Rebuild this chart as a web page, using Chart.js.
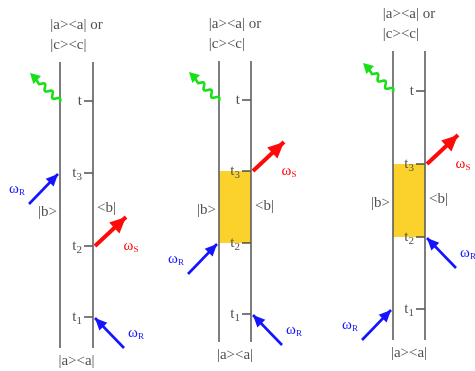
<!DOCTYPE html>
<html>
<head>
<meta charset="utf-8">
<script src="https://cdn.jsdelivr.net/npm/chart.js@4/dist/chart.umd.min.js"></script>
<style>
  html, body { margin: 0; padding: 0; background: #fff; }
  #wrap { width: 475px; height: 371px; }
</style>
</head>
<body>
<div id="wrap"><canvas id="c" width="475" height="371"></canvas></div>
<script>
// Three double-sided Feynman diagrams: ket rail on the left, bra rail on the right,
// time runs upward (smaller vertical value = later time).
const ketX = [60, 219, 393];
const braX = [93, 251, 425];
const railTop = [62, 61, 51];
const railBottom = [348, 342, 340];

// interaction times on each diagram
const timeT  = [101, 100, 91];
const timeT3 = [173, 171, 164];
const timeT2 = [246, 243, 237];
const timeT1 = [317, 314, 309];
const timeLabels = [['t', ''], ['t', '3'], ['t', '2'], ['t', '1']];

// coherence |b><b| shaded between t2 and t3
const hasCoherenceBox = [false, true, true];
const stateLabels = ['|b>', '<b|'];
const topLabels = ['|a><a| or', '|c><c|'];
const bottomLabel = '|a><a|';

// field interactions: diagram, rail, time slot (index into timeLabels), direction, field
const fieldPanel = [0, 0, 0, 1, 1, 1, 2, 2, 2];
const fieldRail  = ['ket', 'bra', 'bra', 'bra', 'ket', 'bra', 'bra', 'bra', 'ket'];
const fieldSlot  = [1, 2, 3, 1, 2, 3, 1, 2, 3];
const fieldDir   = ['in', 'out', 'in', 'out', 'in', 'in', 'out', 'in', 'in'];
const fieldName  = ['R', 'S', 'R', 'S', 'R', 'R', 'S', 'R', 'R'];

const RAIL = '#5e5e5e';
const TEXT = '#505050';
const YELLOW = '#fbd22c';
const BLUE = '#1414ff';
const RED = '#ff0a0a';
const GREEN = '#18e018';
const FONT = '"Liberation Serif", "DejaVu Serif", serif';

const slotTime = (p, s) => [timeT, timeT3, timeT2, timeT1][s][p];
const pt = (x, y) => ({ x, y });

const datasets = [];

// yellow coherence blocks (filled between a top edge and a bottom edge)
ketX.forEach((_, p) => {
  if (!hasCoherenceBox[p]) return;
  datasets.push({
    data: [pt(ketX[p], timeT3[p]), pt(braX[p], timeT3[p])],
    showLine: true, borderColor: 'rgba(0,0,0,0)', borderWidth: 0, pointRadius: 0,
    fill: '+1', backgroundColor: YELLOW, order: 10
  });
  datasets.push({
    data: [pt(ketX[p], timeT2[p]), pt(braX[p], timeT2[p])],
    showLine: true, borderColor: 'rgba(0,0,0,0)', borderWidth: 0, pointRadius: 0,
    fill: false, order: 10
  });
});

// ket and bra rails plus the time ticks on the bra rail
ketX.forEach((_, p) => {
  [ketX[p], braX[p]].forEach(x => {
    datasets.push({
      data: [pt(x, railTop[p]), pt(x, railBottom[p])],
      showLine: true, borderColor: RAIL, borderWidth: 1.6, pointRadius: 0, fill: false, order: 5
    });
  });
  timeLabels.forEach((_, s) => {
    const t = slotTime(p, s);
    datasets.push({
      data: [pt(braX[p] - 9, t), pt(braX[p], t)],
      showLine: true, borderColor: '#333', borderWidth: 1.3, pointRadius: 0, fill: false, order: 5
    });
  });
});

// field arrows
fieldPanel.forEach((p, i) => {
  const t = slotTime(p, fieldSlot[i]);
  const onKet = fieldRail[i] === 'ket';
  const x = onKet ? ketX[p] : braX[p];
  const side = onKet ? -1 : 1;
  let tail, tip;
  if (fieldDir[i] === 'in') {
    tip = pt(x + side * 2, t + 1);
    tail = pt(x + side * 31, t + 31);
  } else {
    tail = pt(x + side * 2, t);
    tip = pt(x + side * 33, t - 29);
  }
  const isSignal = fieldName[i] === 'S';
  datasets.push({
    data: [tail, tip],
    showLine: true,
    borderColor: isSignal ? RED : BLUE,
    borderWidth: isSignal ? 4 : 2.6,
    borderCapStyle: 'butt',
    pointRadius: 0, fill: false, order: 0,
    arrowHead: isSignal ? { len: 16, half: 7.5 } : { len: 12, half: 5.5 },
    fieldLabel: fieldName[i], fieldSide: side, fieldDir: fieldDir[i]
  });
});

// emitted signal field (wavy green arrow) leaving the ket rail at time t
ketX.forEach((_, p) => {
  datasets.push({
    data: [pt(ketX[p], timeT[p] + 1), pt(ketX[p] - 30, timeT[p] - 28)],
    borderColor: GREEN, borderWidth: 0, showLine: false, pointRadius: 0,
    fill: false, order: 0, wavy: true
  });
});

const drawHead = (ctx, a, b, len, half, color) => {
  const ang = Math.atan2(b.y - a.y, b.x - a.x);
  const c = Math.cos(ang), s = Math.sin(ang);
  ctx.beginPath();
  ctx.moveTo(b.x, b.y);
  ctx.lineTo(b.x - len * c - half * s, b.y - len * s + half * c);
  ctx.lineTo(b.x - len * c + half * s, b.y - len * s - half * c);
  ctx.closePath();
  ctx.fillStyle = color;
  ctx.fill();
};

const diagramPlugin = {
  id: 'diagram',
  afterDatasetsDraw(chart) {
    const ctx = chart.ctx;
    const xs = chart.scales.x, ys = chart.scales.y;
    const X = v => xs.getPixelForValue(v);
    const Y = v => ys.getPixelForValue(v);
    ctx.save();

    // arrow heads and wavy lines
    chart.data.datasets.forEach((ds, i) => {
      const meta = chart.getDatasetMeta(i);
      if (!meta.data || meta.data.length < 2) return;
      const a = meta.data[0], b = meta.data[1];
      if (ds.arrowHead) {
        drawHead(ctx, a, b, ds.arrowHead.len, ds.arrowHead.half, ds.borderColor);
      }
      if (ds.wavy) {
        const dx = b.x - a.x, dy = b.y - a.y;
        const L = Math.hypot(dx, dy);
        const ux = dx / L, uy = dy / L, nx = -uy, ny = ux;
        const waveEnd = L - 14;
        ctx.beginPath();
        for (let s = 0; s <= waveEnd; s += 0.5) {
          const amp = 2.6 * Math.sin((s / 10.5) * 2 * Math.PI);
          const px = a.x + ux * s + nx * amp, py = a.y + uy * s + ny * amp;
          if (s === 0) ctx.moveTo(px, py); else ctx.lineTo(px, py);
        }
        ctx.lineTo(a.x + ux * (L - 8), a.y + uy * (L - 8));
        ctx.strokeStyle = ds.borderColor;
        ctx.lineWidth = 2.6;
        ctx.lineJoin = 'round';
        ctx.stroke();
        drawHead(ctx, a, b, 10, 5.5, ds.borderColor);
      }
    });

    ctx.textBaseline = 'middle';

    ketX.forEach((_, p) => {
      ctx.fillStyle = TEXT;
      const cx = X((ketX[p] + braX[p]) / 2);
      // initial / final populations
      ctx.font = '15px ' + FONT;
      ctx.textAlign = 'center';
      const w0 = ctx.measureText(topLabels[0]).width;
      ctx.fillText(topLabels[0], cx, Y(railTop[p]) - 37);
      ctx.textAlign = 'left';
      ctx.fillText(topLabels[1], cx - w0 / 2, Y(railTop[p]) - 17);
      ctx.textAlign = 'center';
      ctx.fillText(bottomLabel, cx, Y(railBottom[p]) + 13);

      // |b> and <b| between t2 and t3
      const mid = Y((timeT3[p] + timeT2[p]) / 2);
      ctx.textAlign = 'right';
      ctx.fillText(stateLabels[0], X(ketX[p]) - 3, mid + 3);
      ctx.textAlign = 'left';
      ctx.fillText(stateLabels[1], X(braX[p]) + 4, mid - 1);

      // time labels
      timeLabels.forEach((lab, s) => {
        const y = Y(slotTime(p, s));
        const right = X(braX[p]) - 11;
        ctx.font = '11px ' + FONT;
        const ws = lab[1] ? ctx.measureText(lab[1]).width : 0;
        if (lab[1]) {
          ctx.textAlign = 'left';
          ctx.fillText(lab[1], right - ws, y + 4);
        }
        ctx.font = '15px ' + FONT;
        ctx.textAlign = 'right';
        ctx.fillText(lab[0], right - ws, y);
      });
    });

    // field labels
    chart.data.datasets.forEach((ds, i) => {
      if (!ds.fieldLabel) return;
      const meta = chart.getDatasetMeta(i);
      const anchor = ds.fieldDir === 'in' ? meta.data[1] : meta.data[0];
      let lx, ly;
      if (ds.fieldDir === 'in') {
        lx = anchor.x + ds.fieldSide * 41;
        ly = anchor.y + 15;
      } else {
        lx = anchor.x + ds.fieldSide * 36;
        ly = anchor.y + 0;
      }
      ctx.fillStyle = ds.borderColor;
      ctx.font = '15px ' + FONT;
      ctx.textAlign = 'left';
      const wo = ctx.measureText('ω').width;
      ctx.font = '9px ' + FONT;
      const wr = ctx.measureText(ds.fieldLabel).width;
      const left = lx - (wo + wr) / 2;
      ctx.font = '15px ' + FONT;
      ctx.fillText('ω', left, ly);
      ctx.font = '9px ' + FONT;
      ctx.fillText(ds.fieldLabel, left + wo, ly + 4);
    });

    ctx.restore();
  }
};

new Chart(document.getElementById('c'), {
  type: 'scatter',
  data: { datasets },
  options: {
    responsive: false,
    animation: false,
    events: [],
    layout: { padding: 0 },
    plugins: { legend: { display: false }, tooltip: { enabled: false } },
    elements: { line: { tension: 0 } },
    scales: {
      x: { type: 'linear', min: 0, max: 475, display: false },
      y: { type: 'linear', min: 0, max: 371, reverse: true, display: false }
    }
  },
  plugins: [diagramPlugin]
});
</script>
</body>
</html>
